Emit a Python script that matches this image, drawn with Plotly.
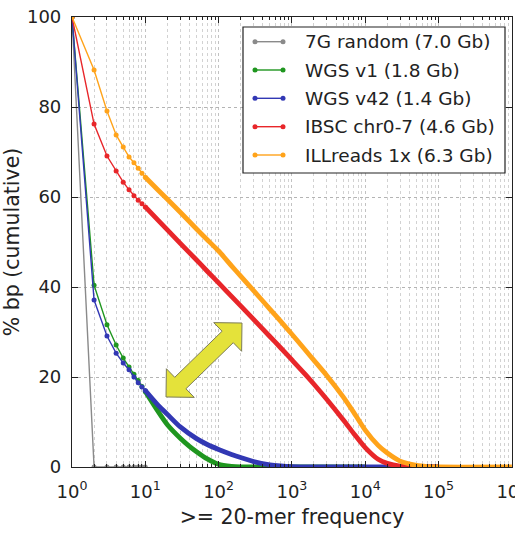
import math
import plotly.graph_objects as go

# ---- data: cumulative % of bp with 20-mer frequency >= x ----
freq_random = [1, 2, 3, 4, 5, 6, 7, 8, 9, 10]
pct_random = [100, 0, 0, 0, 0, 0, 0, 0, 0, 0]

freq_wgs1 = [1, 2, 3, 4, 5, 6, 7, 8, 9, 10, 15, 20, 30, 40, 50, 70, 100, 150, 200, 300, 1000, 10000]
pct_wgs1 = [100, 40.4, 31.6, 27.1, 24.2, 22.2, 20.6, 19.2, 17.9, 16.8, 12.3, 9.4, 6.4, 4.6, 3.4, 1.8, 0.6, 0.15, 0.03, 0, 0, 0]

freq_wgs42 = [1, 2, 3, 4, 5, 6, 7, 8, 9, 10, 15, 20, 30, 50, 70, 100, 150, 200, 300, 500, 700, 1000, 2000, 10000, 100000]
pct_wgs42 = [100, 37.1, 29.1, 25.3, 23.1, 21.6, 20.0, 18.7, 17.8, 17.0, 13.7, 11.7, 8.9, 6.3, 5.0, 3.9, 2.8, 2.1, 1.2, 0.5, 0.25, 0.1, 0.02, 0, 0]

freq_ibsc = [1, 2, 3, 4, 5, 6, 7, 8, 9, 10, 15, 20, 30, 50, 70, 100, 150, 200, 300, 500, 700, 1000, 1500,
             2000, 3000, 5000, 7000, 10000, 15000, 20000, 30000, 50000, 100000]
pct_ibsc = [100, 76.2, 69.1, 65.8, 63.3, 61.6, 60.3, 59.3, 58.5, 57.8, 54.8, 52.7, 49.7, 46.0, 43.5, 40.9, 37.9,
            35.8, 32.8, 29.0, 26.5, 23.8, 20.7, 18.4, 15.0, 10.5, 7.4, 4.3, 1.7, 0.8, 0.2, 0.03, 0]

freq_ill = [1, 2, 3, 4, 5, 6, 7, 8, 9, 10, 15, 20, 30, 50, 70, 100, 150, 200, 300, 500, 700, 1000, 1500,
            2000, 3000, 5000, 7000, 10000, 15000, 20000, 30000, 50000, 70000, 100000, 1000000]
pct_ill = [100, 88.2, 79.1, 73.8, 71.1, 68.9, 67.6, 66.4, 65.3, 64.4, 61.5, 59.5, 56.6, 52.9, 50.5, 48.0, 44.7,
           42.4, 39.2, 35.1, 32.4, 29.5, 26.1, 23.7, 20.3, 15.6, 12.1, 8.2, 4.8, 3.1, 1.3, 0.35, 0.1, 0, 0]

series_names = ["7G random (7.0 Gb)", "WGS v1 (1.8 Gb)", "WGS v42 (1.4 Gb)",
                "IBSC chr0-7 (4.6 Gb)", "ILLreads 1x (6.3 Gb)"]
series_colors = ["#8a8a8a", "#1f961f", "#3238b4", "#e8262a", "#ffa31a"]
series_data = [(freq_random, pct_random), (freq_wgs1, pct_wgs1), (freq_wgs42, pct_wgs42),
               (freq_ibsc, pct_ibsc), (freq_ill, pct_ill)]

x_tick_vals = [1, 10, 100, 1000, 10000, 100000, 1000000]
x_tick_text = ["10<sup>%d</sup>" % i for i in range(7)]
y_tick_vals = [0, 20, 40, 60, 80, 100]

# ---- figure geometry (pixels) ----
W, H = 515, 534
ML, MR, MT, MB = 72, 3, 17, 67
PW, PH = W - ML - MR, H - MT - MB


def px(x):
    return (x - ML) / PW


def py(y):
    return (H - MB - y) / PH


fig = go.Figure()

# individual markers are distinct up to freq 10; beyond that they merge into a thick band
for (fx, fy), name, col in zip(series_data, series_names, series_colors):
    head = [(a, b) for a, b in zip(fx, fy) if a <= 10]
    tail = [(a, b) for a, b in zip(fx, fy) if a >= 10]
    fig.add_trace(go.Scatter(
        x=[p[0] for p in head], y=[p[1] for p in head], mode="lines+markers",
        line=dict(color=col, width=1.4), marker=dict(color=col, size=5),
        name=name, showlegend=False))
    if len(tail) > 1:
        fig.add_trace(go.Scatter(
            x=[p[0] for p in tail], y=[p[1] for p in tail], mode="lines",
            line=dict(color=col, width=4.8, shape="spline", smoothing=0.7),
            name=name, showlegend=False))

minor_vals = [m * 10 ** d for d in range(6) for m in range(2, 10)]

font_main = "DejaVu Sans"
fig.update_layout(
    width=W, height=H,
    margin=dict(l=ML, r=MR, t=MT, b=MB),
    paper_bgcolor="white", plot_bgcolor="white",
    font=dict(family=font_main, size=18, color="#222222"),
    xaxis=dict(
        type="log", range=[0, 6.002], automargin=False,
        tickmode="array", tickvals=x_tick_vals, ticktext=x_tick_text,
        ticks="inside", ticklen=6, tickcolor="#222", tickwidth=1,
        showline=True, linecolor="#222", linewidth=1.2, mirror="ticks",
        showgrid=True, gridcolor="#c2c2c2", griddash="dot", gridwidth=1,
        zeroline=False, ticklabelstandoff=8, ticklabeloverflow="allow",
        minor=dict(tickmode="array", tickvals=minor_vals, ticks="inside", ticklen=3,
                   tickcolor="#222", showgrid=True, gridcolor="#d2d2d2", griddash="dot"),
        title=dict(text=">= 20-mer frequency", font=dict(size=20.5), standoff=8),
    ),
    yaxis=dict(
        range=[0, 100], automargin=False, tickmode="array", tickvals=y_tick_vals,
        ticks="inside", ticklen=6, tickcolor="#222", tickwidth=1,
        showline=True, linecolor="#222", linewidth=1.2, mirror="ticks",
        showgrid=True, gridcolor="#b4b4b4", griddash="dot", gridwidth=1,
        zeroline=False, ticklabelstandoff=6,
        title=dict(text="% bp (cumulative)", font=dict(size=20.5), standoff=4),
    ),
)

shapes = []
annotations = []

# legend box
lg_x0, lg_x1, lg_y0, lg_y1 = 243, 505, 27, 173
shapes.append(dict(type="rect", xref="paper", yref="paper",
                   x0=px(lg_x0), x1=px(lg_x1), y0=py(lg_y1), y1=py(lg_y0),
                   line=dict(color="#222", width=1.2), fillcolor="white", layer="above"))
row_y = [41.7, 70.0, 98.3, 126.7, 155.0]
for ry, name, col in zip(row_y, series_names, series_colors):
    shapes.append(dict(type="line", xref="paper", yref="paper",
                       x0=px(255), x1=px(283), y0=py(ry), y1=py(ry),
                       line=dict(color=col, width=1.4), layer="above"))
    for cx in (255, 283):
        shapes.append(dict(type="circle", xref="paper", yref="paper",
                           x0=px(cx - 2.5), x1=px(cx + 2.5), y0=py(ry + 2.5), y1=py(ry - 2.5),
                           line=dict(color=col, width=0), fillcolor=col, layer="above"))
    annotations.append(dict(xref="paper", yref="paper", x=px(303), y=py(ry), text=name,
                            showarrow=False, xanchor="left", yanchor="middle",
                            font=dict(size=18.5, color="#222")))

# yellow double-headed arrow
t1 = (166.0, 397.0)
t2 = (242.0, 323.0)
L = math.hypot(t2[0] - t1[0], t2[1] - t1[1])
d = ((t2[0] - t1[0]) / L, (t2[1] - t1[1]) / L)
n = (-d[1], d[0])
hl, hw, sw = 20.0, 20.0, 8.0


def pt(base, a, b):
    return (base[0] + d[0] * a + n[0] * b, base[1] + d[1] * a + n[1] * b)


poly = [t1, pt(t1, hl, hw), pt(t1, hl, sw), pt(t2, -hl, sw), pt(t2, -hl, hw), t2,
        pt(t2, -hl, -hw), pt(t2, -hl, -sw), pt(t1, hl, -sw), pt(t1, hl, -hw)]
path = "M " + " L ".join("%.5f,%.5f" % (px(p[0]), py(p[1])) for p in poly) + " Z"
shapes.append(dict(type="path", xref="paper", yref="paper", path=path,
                   fillcolor="#e4e23a", line=dict(color="#7c7c5a", width=1), layer="above"))

fig.update_layout(shapes=shapes, annotations=annotations)

fig.write_html("out.html")
